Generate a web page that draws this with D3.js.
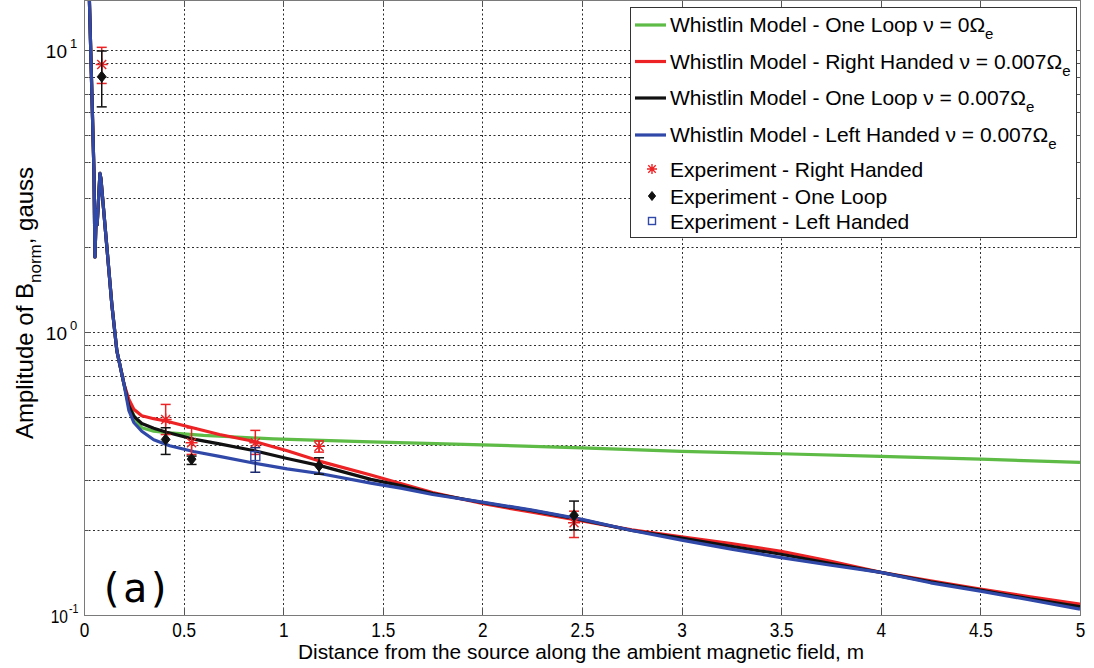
<!DOCTYPE html>
<html>
<head>
<meta charset="utf-8">
<script src="https://cdn.jsdelivr.net/npm/d3@7"></script>
<style>
  html, body { margin: 0; padding: 0; background: #fff; }
  svg { display: block; font-family: "Liberation Sans", Arial, Helvetica, sans-serif; }
</style>
</head>
<body>
<svg id="chart" width="1094" height="668"></svg>
<script>
// ---- axis ticks ----
const xTickValues = [0, 0.5, 1, 1.5, 2, 2.5, 3, 3.5, 4, 4.5, 5];
const xTickLabels = ["0", "0.5", "1", "1.5", "2", "2.5", "3", "3.5", "4", "4.5", "5"];
const yMajorValues = [0.1, 1, 10];
const yMajorExponents = ["-1", "0", "1"];

// ---- model curves: distance (m) and amplitude (gauss) ----
const greenDist = [0.026, 0.05, 0.055, 0.062, 0.066, 0.08, 0.085, 0.14, 0.165, 0.2, 0.225, 0.26, 0.29, 0.35, 0.43, 0.6, 0.95, 1.44, 2.0, 2.5, 3.0, 3.5, 4.0, 4.5, 5.0];
const greenAmp  = [16, 3.7, 1.85, 2.7, 2.4, 3.65, 3.5, 1.25, 0.86, 0.66, 0.56, 0.49, 0.46, 0.447, 0.441, 0.432, 0.42, 0.41, 0.40, 0.39, 0.379, 0.372, 0.364, 0.356, 0.347];

const redDist = [0.026, 0.05, 0.055, 0.062, 0.066, 0.08, 0.085, 0.14, 0.165, 0.2, 0.225, 0.25, 0.29, 0.35, 0.415, 0.55, 0.68, 0.85, 1.02, 1.19, 1.44, 1.59, 1.75, 2.0, 2.25, 2.5, 2.75, 3.0, 3.25, 3.5, 3.75, 4.0, 4.25, 4.5, 4.75, 5.0];
const redAmp  = [16, 3.7, 1.85, 2.7, 2.4, 3.65, 3.5, 1.25, 0.86, 0.66, 0.58, 0.535, 0.507, 0.495, 0.485, 0.459, 0.435, 0.412, 0.381, 0.349, 0.313, 0.292, 0.271, 0.248, 0.231, 0.215, 0.2, 0.189, 0.179, 0.168, 0.155, 0.1415, 0.132, 0.1235, 0.116, 0.1092];

const blackDist = [0.026, 0.05, 0.055, 0.062, 0.066, 0.08, 0.085, 0.14, 0.165, 0.2, 0.225, 0.25, 0.29, 0.35, 0.415, 0.55, 0.68, 0.85, 1.02, 1.19, 1.44, 1.59, 1.75, 2.0, 2.25, 2.5, 2.75, 3.0, 3.25, 3.5, 3.75, 4.0, 4.25, 4.5, 4.75, 5.0];
const blackAmp  = [16, 3.7, 1.85, 2.7, 2.4, 3.65, 3.5, 1.25, 0.86, 0.66, 0.55, 0.505, 0.476, 0.458, 0.443, 0.419, 0.403, 0.382, 0.358, 0.337, 0.302, 0.287, 0.269, 0.250, 0.234, 0.217, 0.199, 0.187, 0.175, 0.164, 0.152, 0.1415, 0.131, 0.1225, 0.114, 0.1071];

const blueDist = [0.026, 0.05, 0.055, 0.062, 0.066, 0.08, 0.085, 0.14, 0.165, 0.2, 0.225, 0.25, 0.29, 0.35, 0.43, 0.55, 0.68, 0.85, 1.02, 1.19, 1.44, 1.59, 1.75, 2.0, 2.25, 2.5, 2.75, 3.0, 3.25, 3.5, 3.75, 4.0, 4.25, 4.5, 4.75, 5.0];
const blueAmp  = [16, 3.7, 1.85, 2.7, 2.4, 3.65, 3.5, 1.25, 0.86, 0.66, 0.53, 0.48, 0.447, 0.417, 0.397, 0.379, 0.364, 0.345, 0.329, 0.316, 0.293, 0.281, 0.267, 0.251, 0.235, 0.218, 0.199, 0.184, 0.171, 0.1595, 0.150, 0.1415, 0.130, 0.1215, 0.113, 0.1048];

// ---- measurements with error bars ----
const rightDist = [0.089, 0.41, 0.54, 0.86, 1.18, 2.46];
const rightAmp  = [8.87, 0.492, 0.407, 0.407, 0.395, 0.212];
const rightLow  = [7.6, 0.435, 0.37, 0.37, 0.377, 0.188];
const rightHigh = [10.2, 0.556, 0.459, 0.45, 0.413, 0.233];

const loopDist = [0.089, 0.41, 0.54, 1.18, 2.46];
const loopAmp  = [8.03, 0.418, 0.356, 0.337, 0.2253];
const loopLow  = [6.28, 0.37, 0.341, 0.315, 0.2];
const loopHigh = [9.9, 0.4597, 0.365, 0.36, 0.253];

const leftDist = [0.86];
const leftAmp  = [0.365];
const leftLow  = [0.32];
const leftHigh = [0.391];

// ---- layout ----
const plot = { left: 84, right: 1080, top: 0, bottom: 615 };
const svg = d3.select("#chart");

const x = d3.scaleLinear().domain([0, 5]).range([plot.left, plot.right]);
const y = d3.scaleLog().domain([0.1, 15]).range([plot.bottom, plot.top]);

const COLORS = { green: "#5dbb46", red: "#ec2224", black: "#111111", blue: "#3048a8", grid: "#2e2e2e", frame: "#7a7a7a" };

svg.append("rect").attr("width", 1094).attr("height", 668).attr("fill", "#fff");

svg.append("clipPath").attr("id", "plotClip")
  .append("rect")
  .attr("x", plot.left).attr("y", plot.top)
  .attr("width", plot.right - plot.left).attr("height", plot.bottom - plot.top);

// grid: every 0.5 m, and every log minor step
const gridG = svg.append("g").attr("stroke", COLORS.grid).attr("stroke-width", 1).attr("stroke-dasharray", "2,2.5");
xTickValues.filter(v => v > 0 && v < 5).forEach(v => {
  gridG.append("line")
    .attr("x1", Math.round(x(v)) + 0.5).attr("x2", Math.round(x(v)) + 0.5)
    .attr("y1", plot.top).attr("y2", plot.bottom);
});
const yGridValues = y.ticks().filter(v => v > 0.1 && v < 15);
yGridValues.forEach(v => {
  gridG.append("line")
    .attr("x1", plot.left).attr("x2", plot.right)
    .attr("y1", Math.round(y(v)) + 0.5).attr("y2", Math.round(y(v)) + 0.5);
});

// frame ticks on all four sides (inward)
const tickG = svg.append("g").attr("stroke", "#555").attr("stroke-width", 1);
xTickValues.forEach(v => {
  const px = Math.round(x(v)) + 0.5;
  tickG.append("line").attr("x1", px).attr("x2", px).attr("y1", plot.bottom).attr("y2", plot.bottom - 7);
  tickG.append("line").attr("x1", px).attr("x2", px).attr("y1", plot.top).attr("y2", plot.top + 7);
});
y.ticks().filter(v => v >= 0.1 && v <= 15).forEach(v => {
  const py = Math.round(y(v)) + 0.5;
  const len = yMajorValues.includes(v) ? 7 : 4;
  tickG.append("line").attr("x1", plot.left).attr("x2", plot.left + len).attr("y1", py).attr("y2", py);
  tickG.append("line").attr("x1", plot.right).attr("x2", plot.right - len).attr("y1", py).attr("y2", py);
});

// model curves
const line = d3.line().x(d => x(d[0])).y(d => y(d[1]));
const curves = [
  { dist: greenDist, amp: greenAmp, color: COLORS.green },
  { dist: redDist, amp: redAmp, color: COLORS.red },
  { dist: blackDist, amp: blackAmp, color: COLORS.black },
  { dist: blueDist, amp: blueAmp, color: COLORS.blue }
];
const curveG = svg.append("g").attr("clip-path", "url(#plotClip)");
curves.forEach(c => {
  curveG.append("path")
    .datum(c.dist.map((d, i) => [d, c.amp[i]]))
    .attr("d", line)
    .attr("fill", "none")
    .attr("stroke", c.color)
    .attr("stroke-width", 3.2)
    .attr("stroke-linejoin", "round");
});

// error bars
function errorBars(dist, low, high, color) {
  const g = svg.append("g").attr("stroke", color).attr("stroke-width", 1.5).attr("fill", "none");
  dist.forEach((d, i) => {
    const px = x(d);
    g.append("line").attr("x1", px).attr("x2", px).attr("y1", y(low[i])).attr("y2", y(high[i]));
    g.append("line").attr("x1", px - 5).attr("x2", px + 5).attr("y1", y(low[i])).attr("y2", y(low[i]));
    g.append("line").attr("x1", px - 5).attr("x2", px + 5).attr("y1", y(high[i])).attr("y2", y(high[i]));
  });
}

// marker shapes
function asterisk(g, cx, cy, r, color) {
  const a = r * 0.75;
  const p = `M${cx - r},${cy}L${cx + r},${cy}M${cx},${cy - r}L${cx},${cy + r}` +
            `M${cx - a},${cy - a}L${cx + a},${cy + a}M${cx - a},${cy + a}L${cx + a},${cy - a}`;
  g.append("path").attr("d", p).attr("stroke", color).attr("stroke-width", 1.4).attr("fill", "none");
}
function diamond(g, cx, cy, r, color) {
  g.append("path")
    .attr("d", `M${cx},${cy - r}L${cx + r * 0.8},${cy}L${cx},${cy + r}L${cx - r * 0.8},${cy}Z`)
    .attr("fill", color).attr("stroke", color).attr("stroke-width", 1);
}
function square(g, cx, cy, r, color) {
  g.append("rect").attr("x", cx - r).attr("y", cy - r).attr("width", 2 * r).attr("height", 2 * r)
    .attr("fill", "none").attr("stroke", color).attr("stroke-width", 1.4);
}

errorBars(rightDist, rightLow, rightHigh, COLORS.red);
const rightG = svg.append("g");
rightDist.forEach((d, i) => asterisk(rightG, x(d), y(rightAmp[i]), 6, COLORS.red));

errorBars(loopDist, loopLow, loopHigh, COLORS.black);
const loopG = svg.append("g");
loopDist.forEach((d, i) => diamond(loopG, x(d), y(loopAmp[i]), 5.5, COLORS.black));

errorBars(leftDist, leftLow, leftHigh, "#1c2a70");
const leftG = svg.append("g");
leftDist.forEach((d, i) => square(leftG, x(d), y(leftAmp[i]), 4.5, COLORS.blue));

// frame
svg.append("rect")
  .attr("x", plot.left + 0.5).attr("y", plot.top + 0.5)
  .attr("width", plot.right - plot.left).attr("height", plot.bottom - plot.top)
  .attr("fill", "none").attr("stroke", COLORS.frame).attr("stroke-width", 1);

// x axis labels (condensed face)
const xAxis = d3.axisBottom(x).tickValues(xTickValues).tickFormat((d, i) => xTickLabels[i]).tickSize(0).tickPadding(0);
const xAxisG = svg.append("g").attr("transform", `translate(0,${plot.bottom})`).call(xAxis);
xAxisG.select(".domain").remove();
xAxisG.selectAll("text")
  .attr("y", 22).attr("dy", null)
  .attr("font-size", 21).attr("fill", "#000")
  .attr("font-family", "'Liberation Sans', Arial, sans-serif")
  .attr("transform", "scale(0.82,1)");

// y axis labels: powers of ten
yMajorValues.forEach((v, i) => {
  const narrow = v < 1;
  svg.append("text")
    .attr("font-size", 19).attr("fill", "#000")
    .attr("text-anchor", "end")
    .attr("transform", narrow ? `translate(68,${y(v) + 8}) scale(0.82,1)` : `translate(67,${y(v) + 8})`)
    .text("10");
  svg.append("text")
    .attr("font-size", 13).attr("fill", "#000")
    .attr("transform", narrow ? `translate(69,${y(v) - 2}) scale(0.82,1)` : `translate(70,${y(v) - 2})`)
    .text(yMajorExponents[i]);
});

// axis titles
svg.append("text")
  .attr("x", 581).attr("y", 659)
  .attr("text-anchor", "middle")
  .attr("font-size", 20.5)
  .attr("textLength", 566).attr("lengthAdjust", "spacingAndGlyphs")
  .text("Distance from the source along the ambient magnetic field, m");

const yTitle = svg.append("text")
  .attr("transform", "translate(33,303) rotate(-90)")
  .attr("text-anchor", "middle")
  .attr("font-size", 24);
yTitle.append("tspan").text("Amplitude of B");
yTitle.append("tspan").attr("font-size", 17).attr("dy", 8).text("norm");
yTitle.append("tspan").attr("dy", -8).text(", gauss");

// panel tag
svg.append("text")
  .attr("x", 99).attr("y", 602)
  .attr("font-family", "'DejaVu Sans Mono', monospace")
  .attr("font-size", 40)
  .text("(a)");

// legend
const legend = svg.append("g");
legend.append("rect")
  .attr("x", 630.5).attr("y", 7.5).attr("width", 446).attr("height", 230)
  .attr("fill", "#fff").attr("stroke", "#333").attr("stroke-width", 1);

const lineEntries = [
  { label: "Whistlin Model - One Loop ν = 0Ω", color: COLORS.green, y: 25 },
  { label: "Whistlin Model - Right Handed ν = 0.007Ω", color: COLORS.red, y: 61.5 },
  { label: "Whistlin Model - One Loop ν = 0.007Ω", color: COLORS.black, y: 98 },
  { label: "Whistlin Model - Left Handed ν = 0.007Ω", color: COLORS.blue, y: 135 }
];
lineEntries.forEach(e => {
  legend.append("line").attr("x1", 635).attr("x2", 666).attr("y1", e.y).attr("y2", e.y)
    .attr("stroke", e.color).attr("stroke-width", 3.2);
  const t = legend.append("text").attr("x", 670).attr("y", e.y + 7).attr("font-size", 21);
  t.append("tspan").text(e.label);
  t.append("tspan").attr("font-size", 15).attr("dy", 7).text("e");
});

const markerEntries = [
  { label: "Experiment - Right Handed", y: 169, kind: "asterisk" },
  { label: "Experiment - One Loop", y: 196, kind: "diamond" },
  { label: "Experiment - Left Handed", y: 221, kind: "square" }
];
markerEntries.forEach(e => {
  if (e.kind === "asterisk") asterisk(legend, 652, e.y, 5, COLORS.red);
  else if (e.kind === "diamond") diamond(legend, 652, e.y, 4.5, COLORS.black);
  else square(legend, 652, e.y, 3.5, COLORS.blue);
  legend.append("text").attr("x", 670).attr("y", e.y + 7.5).attr("font-size", 21).text(e.label);
});
</script>
</body>
</html>
